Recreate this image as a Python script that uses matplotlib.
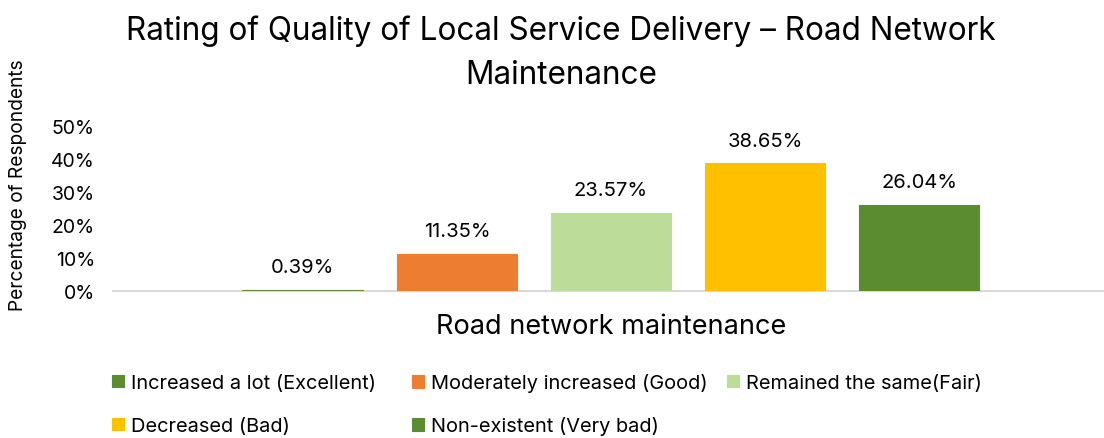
import numpy as np
import matplotlib.pyplot as plt
from matplotlib.ticker import PercentFormatter

plt.rcParams['font.family'] = ['Inter', 'DejaVu Sans']

category = "Road network maintenance"
labels = ["Increased a lot (Excellent)", "Moderately increased (Good)",
          "Remained the same(Fair)", "Decreased (Bad)", "Non-existent (Very bad)"]
values = [0.39, 11.35, 23.57, 38.65, 26.04]
colors = ["#5b8c2f", "#ed7d31", "#bcdc9a", "#ffc000", "#5b8c2f"]

fig = plt.figure(figsize=(11.04, 4.39), dpi=100)
ax = fig.add_axes([113/1104, 147/439, 990/1104, 165/439])

pitch = 0.1556
width = 0.122
offsets = (np.arange(len(values)) - 2) * pitch + 0.003
bars = []
for off, v, c, lab in zip(offsets, values, colors, labels):
    b = ax.bar(off, v / 100, width=width, color=c, label=lab, edgecolor=c,
               linewidth=0.8, zorder=3)
    bars.append(b)
    ax.annotate(f"{v:.2f}%", (off, v / 100), xytext=(0, 10), textcoords="offset points",
                ha="center", va="bottom", fontsize=14.5, color="#000000")

ax.set_xlim(-0.5, 0.5)
ax.set_ylim(0, 0.5)
ax.yaxis.set_major_formatter(PercentFormatter(1.0, decimals=0))
ax.set_yticks(np.arange(0, 0.51, 0.1))
ax.tick_params(axis="y", length=0, labelsize=14, pad=13)
ax.set_xticks([])
for s in ["top", "right", "left"]:
    ax.spines[s].set_visible(False)
ax.spines["bottom"].set_color("#d9d9d9")
ax.spines["bottom"].set_linewidth(1.5)

fig.text(18/1104, 1 - 185/439, "Percentage of Respondents", rotation=90,
         ha="center", va="center", fontsize=13.8)
fig.text(611/1104, 1 - 327/439, category, ha="center", va="center", fontsize=19.5)
fig.text(561/1104, 1 - 53/439, "Rating of Quality of Local Service Delivery – Road Network\nMaintenance",
         ha="center", va="center", fontsize=22.7, linespacing=1.55)

# legend entries placed like Excel's wrapped legend
pos = [(112, 384), (412, 384), (727, 384), (112, 427), (412, 427)]
for b, lab, (px, py) in zip(bars, labels, pos):
    fig.legend([b], [lab], loc="center left", bbox_to_anchor=(px/1104, 1 - py/439),
               frameon=False, fontsize=14.4, handlelength=0.6, handleheight=0.6,
               handletextpad=0.35, borderpad=0, borderaxespad=0)

fig.savefig("out.png", dpi=100)
